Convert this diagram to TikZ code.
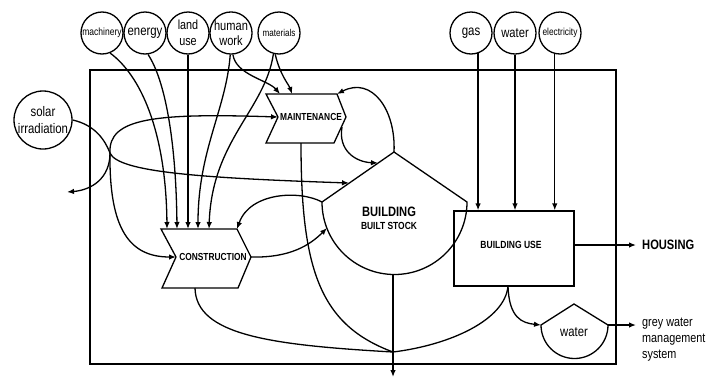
\documentclass[tikz,border=0pt]{standalone}
\usepackage{fontspec}
\setmainfont{Liberation Sans}
\newfontfamily\nar[FakeStretch=0.82]{Liberation Sans}
\usetikzlibrary{arrows.meta}
\newcommand\fsz[2]{\fontsize{#1}{#2}\selectfont}
\tikzset{
  ln/.style={line width=1.3pt},
  arr/.style={line width=1.3pt,-{Latex[length=7pt,width=5.5pt]}},
  circ/.style={draw,line width=1.3pt,circle,minimum size=42pt,inner sep=0pt,align=center},
  shp/.style={draw,line width=1.3pt,line join=miter},
  lbl/.style={inner sep=0pt,align=center,font=\nar\fsz{13.5}{16}},
  blbl/.style={inner sep=0pt,align=center,font=\nar\bfseries\fsz{10.2}{12}},
}
\begin{document}
\begin{tikzpicture}[x=1pt,y=-1pt]
\useasboundingbox (0,0) rectangle (708,378);

% frame
\draw[ln] (90,70) rectangle (616,364);

% input circles
\node[circ,font=\nar\fsz{10.4}{12}] (mach) at (102,33) {machinery};
\node[circ,font=\nar\fsz{13.9}{16}] (ener) at (145,33) {energy};
\node[circ,font=\nar\fsz{13.2}{16}] (land) at (188,33) {land\\use};
\node[circ,font=\nar\fsz{13.5}{15}] (hum) at (231,33) {human\\work};
\node[circ,font=\nar\fsz{9.9}{12}] (mat) at (279,33) {materials};
\node[circ,font=\nar\fsz{14}{16}] (gas) at (471,33) {gas};
\node[circ,font=\nar\fsz{13.7}{16}] (wat) at (515,33) {water};
\node[circ,font=\nar\fsz{10.2}{12}] (ele) at (560,33) {electricity};
\node[circ,minimum size=58pt,font=\nar\fsz{13.9}{17}] (sol) at (43,120) {solar\\irradiation};

% MAINTENANCE chevron
\coordinate (mTL) at (266,94);
\coordinate (mTR) at (337,94);
\coordinate (mR) at (346,117);
\coordinate (mBR) at (334,143);
\coordinate (mBL) at (266,143);
\coordinate (mN) at (278,117);
\draw[shp] (mTL) -- (mTR) -- (mR) -- (mBR) -- (mBL) -- (mN) -- cycle;
\node[blbl] (maint) at (311,117) {MAINTENANCE};

% CONSTRUCTION chevron
\coordinate (cTL) at (161,229);
\coordinate (cTR) at (237,229);
\coordinate (cR) at (251,257);
\coordinate (cBR) at (238,288);
\coordinate (cBL) at (162,288);
\coordinate (cN) at (176,257);
\draw[shp] (cTL) -- (cTR) -- (cR) -- (cBR) -- (cBL) -- (cN) -- cycle;
\node[blbl] (constr) at (213,257) {CONSTRUCTION};

% BUILDING
\coordinate (bL) at (322,202);
\coordinate (bA) at (394,152);
\coordinate (bR) at (467,202);
\draw[shp] (bL) -- (bA) -- (bR) arc[start angle=0,end angle=180,radius=72.5] -- cycle;
\node[inner sep=0pt,font=\nar\bfseries\fsz{13.6}{16}] (bld) at (389,212) {BUILDING};
\node[blbl,font=\nar\bfseries\fsz{10.3}{12}] (bstock) at (389,226) {BUILT STOCK};

% BUILDING USE
\node[draw,line width=1.3pt,minimum width=120pt,minimum height=75pt,inner sep=0pt] (bu) at (514,248.5) {};
\node[blbl,font=\nar\bfseries\fsz{10.4}{12}] (butext) at (511,245) {BUILDING USE};

% water basin
\coordinate (wL) at (541,325);
\coordinate (wA) at (574,304);
\coordinate (wR) at (608,325);
\draw[shp] (wL) -- (wA) -- (wR) arc[start angle=0,end angle=180,radius=33.5] -- cycle;
\node[lbl,font=\nar\fsz{13.8}{16}] (wtext) at (574,332) {water};

% outputs
\node[anchor=west,inner xsep=6pt,inner ysep=0pt,font=\nar\bfseries\fsz{13.6}{16}] (housing) at (636,245) {HOUSING};
\node[anchor=north west,inner sep=0pt,align=left,font=\nar\fsz{13.2}{16}] (grey) at (642,318) {grey water\\management\\system};
\coordinate (gwin) at (636,325);

% connector points
\coordinate (ct1) at (167,229);
\coordinate (ct2) at (177,229);
\coordinate (ct3) at (188,229);
\coordinate (ct4) at (198,229);
\coordinate (ct5) at (209,229);
\coordinate (mt1) at (280,94);
\coordinate (mt2) at (292,94);
\coordinate (J) at (110,153);
\coordinate (sout) at (67,192);
\coordinate (be1) at (349,183);
\coordinate (be2) at (378,163);
\coordinate (ba1) at (327,228);
\coordinate (mRb) at (342,127);
\coordinate (cB) at (195,288);
\coordinate (mB) at (301,143);
\coordinate (uB) at (508,286);
\coordinate (K) at (393,352);
\coordinate (bB) at (393,275);
\coordinate (bout) at (393,377);

% inputs to construction
\draw[arr] (mach.-68) .. controls (140,75) and (166,130) .. (ct1);
\draw[arr] (ener.-82) .. controls (165,80) and (176,140) .. (ct2);
\draw[arr] (land.south) -- (ct3);
\draw[arr] (hum.-92) .. controls (226,110) and (198,150) .. (ct4);
\draw[arr] (mat.-105) .. controls (265,110) and (212,140) .. (ct5);
% inputs to maintenance
\draw[arr] (hum.-85) .. controls (236,75) and (268,80) .. (mt1);
\draw[arr] (mat.-100) .. controls (280,75) and (289,85) .. (mt2);

% solar irradiation
\draw[ln] (sol.east) .. controls (95,125) and (105,140) .. (J);
\draw[arr] (J) .. controls (118,172) and (200,178) .. (be1);
\draw[arr] (J) .. controls (108,118) and (155,113) .. (mN);
\draw[arr] (J) .. controls (110,178) and (92,190) .. (sout);
\draw[arr] (J) .. controls (109,230) and (130,257) .. (cN);

% maintenance <-> building
\draw[arr] (bA) .. controls (396,110) and (372,76) .. (mTR);
\draw[arr] (mRb) .. controls (338,150) and (355,162) .. (be2);
% construction <-> building
\draw[arr] (bL) .. controls (300,190) and (250,192) .. (cTR);
\draw[arr] (cR) .. controls (290,258) and (310,245) .. (ba1);

% waste flows
\draw[ln] (cB) .. controls (196,335) and (270,345) .. (K);
\draw[ln] (mB) .. controls (301,270) and (320,325) .. (K);
\draw[ln] (uB) .. controls (505,320) and (450,345) .. (K);
\draw[arr] (bB) -- (bout);
\draw[arr] (uB) .. controls (509,318) and (522,323) .. (wL);

% utilities
\draw[arr] (gas.-71) -- (gas.-71 |- bu.north);
\draw[arr] (wat.south) -- (wat.south |- bu.north);
\draw[arr] (ele.-104) -- (ele.-104 |- bu.north);

% outputs
\draw[arr] (bu.east |- housing.west) -- (housing.west);
\draw[arr] (wR) -- (gwin);
\end{tikzpicture}
\end{document}
